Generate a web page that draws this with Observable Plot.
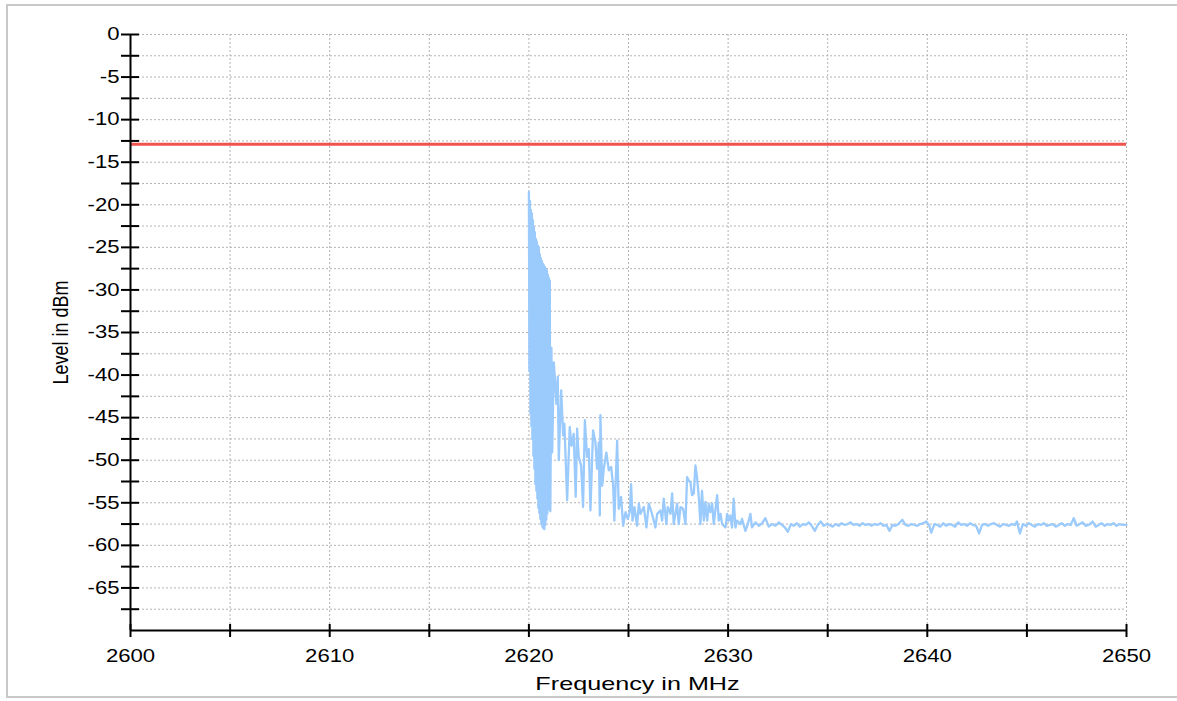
<!DOCTYPE html>
<html><head><meta charset="utf-8">
<script src="https://cdn.jsdelivr.net/npm/d3@7"></script>
<script src="https://cdn.jsdelivr.net/npm/@observablehq/plot@0.6"></script>
<style>
html,body{margin:0;padding:0;background:#fff;}
#frame{position:absolute;left:6px;top:4px;width:1175px;height:694px;border:2px solid #c9c9c9;border-right:none;box-sizing:border-box;}
#chart{position:absolute;left:0;top:0;}
</style></head><body>
<div id="frame"></div><div id="chart"></div>
<script>
// ---- axis ticks ----
const freqTicks = [2600, 2610, 2620, 2630, 2640, 2650];
const freqGrid = [2600, 2605, 2610, 2615, 2620, 2625, 2630, 2635, 2640, 2645, 2650];
const levelTicks = [0, -5, -10, -15, -20, -25, -30, -35, -40, -45, -50, -55, -60, -65];
const levelGrid = [0, -2.5, -5, -7.5, -10, -12.5, -15, -17.5, -20, -22.5, -25, -27.5, -30, -32.5, -35, -37.5, -40, -42.5, -45, -47.5, -50, -52.5, -55, -57.5, -60, -62.5, -65, -67.5];
const limitLevel = [-12.9];

// ---- measured trace: [frequency MHz, level dBm] ----
const burstTrace = [
[2620.000,-18.5],[2620.025,-39.5],[2620.050,-19.5],[2620.075,-44.5],[2620.100,-20.6],[2620.125,-46.0],
[2620.150,-21.0],[2620.175,-47.5],[2620.200,-21.8],[2620.225,-49.5],[2620.250,-22.6],[2620.275,-51.0],
[2620.300,-23.2],[2620.325,-52.8],[2620.350,-24.0],[2620.375,-53.6],[2620.400,-24.3],[2620.425,-54.5],
[2620.450,-24.8],[2620.475,-55.6],[2620.500,-25.0],[2620.525,-56.2],[2620.550,-25.8],[2620.575,-56.9],
[2620.600,-26.3],[2620.625,-57.5],[2620.650,-26.6],[2620.675,-57.8],[2620.700,-26.9],[2620.725,-58.0],
[2620.750,-27.1],[2620.775,-58.1],[2620.800,-27.3],[2620.825,-57.6],[2620.850,-27.5],[2620.875,-57.0],
[2620.900,-27.7],[2620.925,-56.3],[2620.950,-28.2],[2620.975,-55.8],[2621.000,-28.6],[2621.025,-55.0],
[2621.050,-28.9],[2621.075,-56.0]
];
const skirtTrace = [
[2621.13,-36.8],[2621.17,-49.1],[2621.25,-38.5],[2621.32,-41.0],[2621.38,-43.4],[2621.45,-40.2],
[2621.50,-50.0],[2621.62,-41.8],[2621.72,-47.1],[2621.78,-45.7],[2621.92,-54.7],[2622.05,-46.1],
[2622.14,-48.3],[2622.25,-46.9],[2622.35,-54.3],[2622.42,-46.3],[2622.50,-49.6],[2622.62,-50.6],
[2622.72,-55.5],[2622.81,-45.3],[2622.92,-49.6],[2623.01,-48.7],[2623.09,-55.9],[2623.22,-46.5],
[2623.34,-47.9],[2623.42,-51.0],[2623.51,-47.9],[2623.56,-56.5],[2623.59,-44.7],[2623.68,-53.0],
[2623.76,-51.0],[2623.89,-49.1],[2624.01,-51.2],[2624.13,-50.8],[2624.23,-53.0],[2624.29,-57.1],
[2624.43,-47.7],[2624.51,-55.7],[2624.63,-54.3],[2624.73,-57.7],[2624.85,-56.1],[2624.96,-56.9],
[2625.06,-56.1],[2625.13,-52.8],[2625.20,-57.1],[2625.30,-55.5],[2625.43,-57.7],[2625.52,-55.1],
[2625.60,-56.3],[2625.77,-55.5],[2625.90,-57.9],[2626.02,-55.1],[2626.13,-55.9],[2626.27,-57.1],
[2626.35,-57.9],[2626.44,-56.3],[2626.60,-55.9],[2626.69,-57.1],[2626.77,-54.5],[2626.90,-57.5],
[2626.97,-55.5],[2627.11,-56.3],[2627.19,-53.9],[2627.27,-57.5],[2627.44,-55.1],[2627.52,-57.5],
[2627.61,-55.5],[2627.74,-55.7],[2627.86,-57.5],[2627.94,-52.0],[2628.03,-52.4],[2628.11,-52.6],
[2628.19,-54.1],[2628.28,-53.9],[2628.36,-50.6],[2628.44,-52.0],[2628.53,-54.3],[2628.61,-57.5],
[2628.69,-53.6],[2628.78,-57.1],[2628.86,-54.9],[2628.95,-57.1],[2629.03,-55.1],[2629.11,-56.1],
[2629.20,-55.1],[2629.28,-57.5],[2629.36,-55.9],[2629.45,-54.1],[2629.53,-57.1],[2629.62,-56.3],
[2629.70,-57.5],[2629.78,-57.7],[2629.87,-57.9],[2629.95,-56.3],[2630.03,-57.1],[2630.12,-56.5],
[2630.20,-57.9],[2630.28,-54.5],[2630.37,-57.9],[2630.45,-57.1],[2630.62,-57.5],[2630.70,-56.9],
[2630.87,-58.3],[2630.99,-57.5],[2631.12,-56.3],[2631.20,-57.9],[2631.37,-57.3],[2631.54,-57.7],
[2631.71,-57.4],[2631.87,-56.8],[2632.04,-57.8],[2632.21,-57.5],[2632.38,-57.7],[2632.55,-57.3]
];
const floorTrace = [
[2632.70,-57.6],[2632.85,-57.9],[2633.00,-58.4],[2633.15,-57.5],[2633.30,-57.7],[2633.45,-57.4],
[2633.60,-57.8],[2633.75,-57.5],[2633.90,-57.6],[2634.05,-57.3],[2634.20,-57.7],[2634.35,-58.3],
[2634.50,-57.6],[2634.65,-57.2],[2634.80,-57.7],[2634.95,-57.5],[2635.10,-57.6],[2635.25,-57.8],
[2635.40,-57.5],[2635.55,-57.7],[2635.70,-57.4],[2635.85,-57.6],[2636.00,-57.5],[2636.15,-57.3],
[2636.30,-57.6],[2636.45,-57.5],[2636.60,-57.7],[2636.75,-57.4],[2636.90,-57.6],[2637.05,-57.5],
[2637.20,-57.7],[2637.35,-57.5],[2637.50,-57.6],[2637.65,-57.4],[2637.80,-57.7],[2637.95,-57.6],
[2638.10,-58.3],[2638.25,-57.6],[2638.40,-57.7],[2638.55,-57.5],[2638.75,-57.0],[2638.90,-57.6],
[2639.05,-57.7],[2639.20,-57.5],[2639.35,-57.6],[2639.50,-57.7],[2639.65,-57.5],[2639.80,-57.4],
[2639.95,-57.2],[2640.10,-57.7],[2640.20,-58.5],[2640.35,-57.5],[2640.50,-57.6],[2640.65,-57.8],
[2640.80,-57.4],[2640.95,-57.7],[2641.10,-57.5],[2641.25,-57.6],[2641.40,-57.8],[2641.55,-57.3],
[2641.70,-57.6],[2641.85,-57.5],[2642.00,-57.7],[2642.15,-57.4],[2642.30,-57.6],[2642.45,-57.7],
[2642.60,-58.6],[2642.75,-57.6],[2642.90,-57.5],[2643.05,-57.7],[2643.20,-57.5],[2643.35,-57.4],
[2643.50,-57.6],[2643.65,-57.8],[2643.80,-57.5],[2643.95,-57.6],[2644.10,-57.7],[2644.25,-57.5],
[2644.40,-57.6],[2644.50,-57.2],[2644.65,-58.6],[2644.80,-57.5],[2644.95,-57.7],[2645.10,-57.4],
[2645.25,-57.6],[2645.40,-57.8],[2645.55,-57.5],[2645.70,-57.6],[2645.85,-57.4],[2646.00,-57.7],
[2646.15,-57.6],[2646.30,-57.5],[2646.45,-57.8],[2646.60,-57.6],[2646.75,-57.4],[2646.90,-57.7],
[2647.05,-57.5],[2647.20,-57.6],[2647.35,-56.8],[2647.50,-57.7],[2647.65,-57.5],[2647.80,-57.3],
[2647.95,-57.7],[2648.10,-57.6],[2648.30,-57.2],[2648.45,-57.8],[2648.60,-57.6],[2648.75,-57.4],
[2648.90,-57.7],[2649.05,-57.5],[2649.20,-57.6],[2649.35,-57.4],[2649.50,-57.7],[2649.65,-57.5],
[2649.80,-57.6],[2650.00,-57.6]
];
const xLabel = "Frequency in MHz";
const yLabel = "Level in dBm";

const trace = [...burstTrace, ...skirtTrace, ...floorTrace].map(([f, L]) => ({f, L}));

const W = 1177, H = 701;
const mL = 130, mR = 51, mT = 34, mB = 71;
const plotW = W - mL - mR, plotH = H - mT - mB;
const gridStyle = {stroke: "#b3b3b3", strokeOpacity: 1, strokeWidth: 1, strokeDasharray: "2,2"};

const svg = Plot.plot({
  width: W, height: H,
  marginLeft: mL, marginRight: mR, marginTop: mT, marginBottom: mB,
  x: {domain: [2600, 2650], label: null, axis: null},
  y: {domain: [-70, 0], label: null, axis: null},
  style: {fontFamily: "'Liberation Sans', Arial, sans-serif", fontSize: "18px", background: "transparent", color: "#000"},
  marks: [
    Plot.gridX(freqGrid, gridStyle),
    Plot.gridY(levelGrid, gridStyle),
    Plot.ruleY(limitLevel, {stroke: "#f0524c", strokeWidth: 3}),
    Plot.line(trace, {x: "f", y: "L", stroke: "#9bcafc", strokeWidth: 2.3, strokeLinejoin: "round"}),
    Plot.ruleX([2600], {stroke: "#000", strokeWidth: 2}),
    Plot.ruleY([-70], {stroke: "#000", strokeWidth: 2}),
    Plot.ruleY(levelGrid, {stroke: "#000", strokeWidth: 2, insetLeft: -9, insetRight: plotW - 9}),
    Plot.ruleX(freqGrid, {stroke: "#000", strokeWidth: 2, insetTop: plotH - 6, insetBottom: -7}),
    Plot.axisY(levelTicks, {tickSize: 0, tickPadding: 11, label: null, tickFormat: d => String(d)}),
    Plot.axisX(freqTicks, {tickSize: 0, tickPadding: 19, label: null, tickFormat: d => String(d)}),
    Plot.text([yLabel], {text: d => d, frameAnchor: "left", textAnchor: "middle", rotate: -90, dx: -69, dy: 0, fontSize: "18px"}),
    Plot.text([xLabel], {text: d => d, frameAnchor: "bottom", textAnchor: "middle", dy: 59, dx: 9, fontSize: "18px"})
  ]
});
document.getElementById("chart").appendChild(svg);

// widen texts horizontally (screen x) about their anchor, whatever way Plot positioned them
function stretchText(t, s) {
  const g = document.createElementNS("http://www.w3.org/2000/svg", "g");
  t.parentNode.insertBefore(g, t);
  g.appendChild(t);
  const b = g.getBBox();
  const anchor = getComputedStyle(t).textAnchor;
  const ax = anchor === "end" ? b.x + b.width : anchor === "start" ? b.x : b.x + b.width / 2;
  g.setAttribute("transform", `translate(${ax},0) scale(${s},1) translate(${-ax},0)`);
}
const tickStrings = new Set([...freqTicks, ...levelTicks].map(String));
Array.from(svg.querySelectorAll("text")).forEach(t => {
  const s = t.textContent.trim();
  if (s === xLabel) stretchText(t, 1.4);
  else if (s === yLabel) stretchText(t, 1.2);
  else if (tickStrings.has(s)) stretchText(t, 1.23);
});
</script></body></html>
